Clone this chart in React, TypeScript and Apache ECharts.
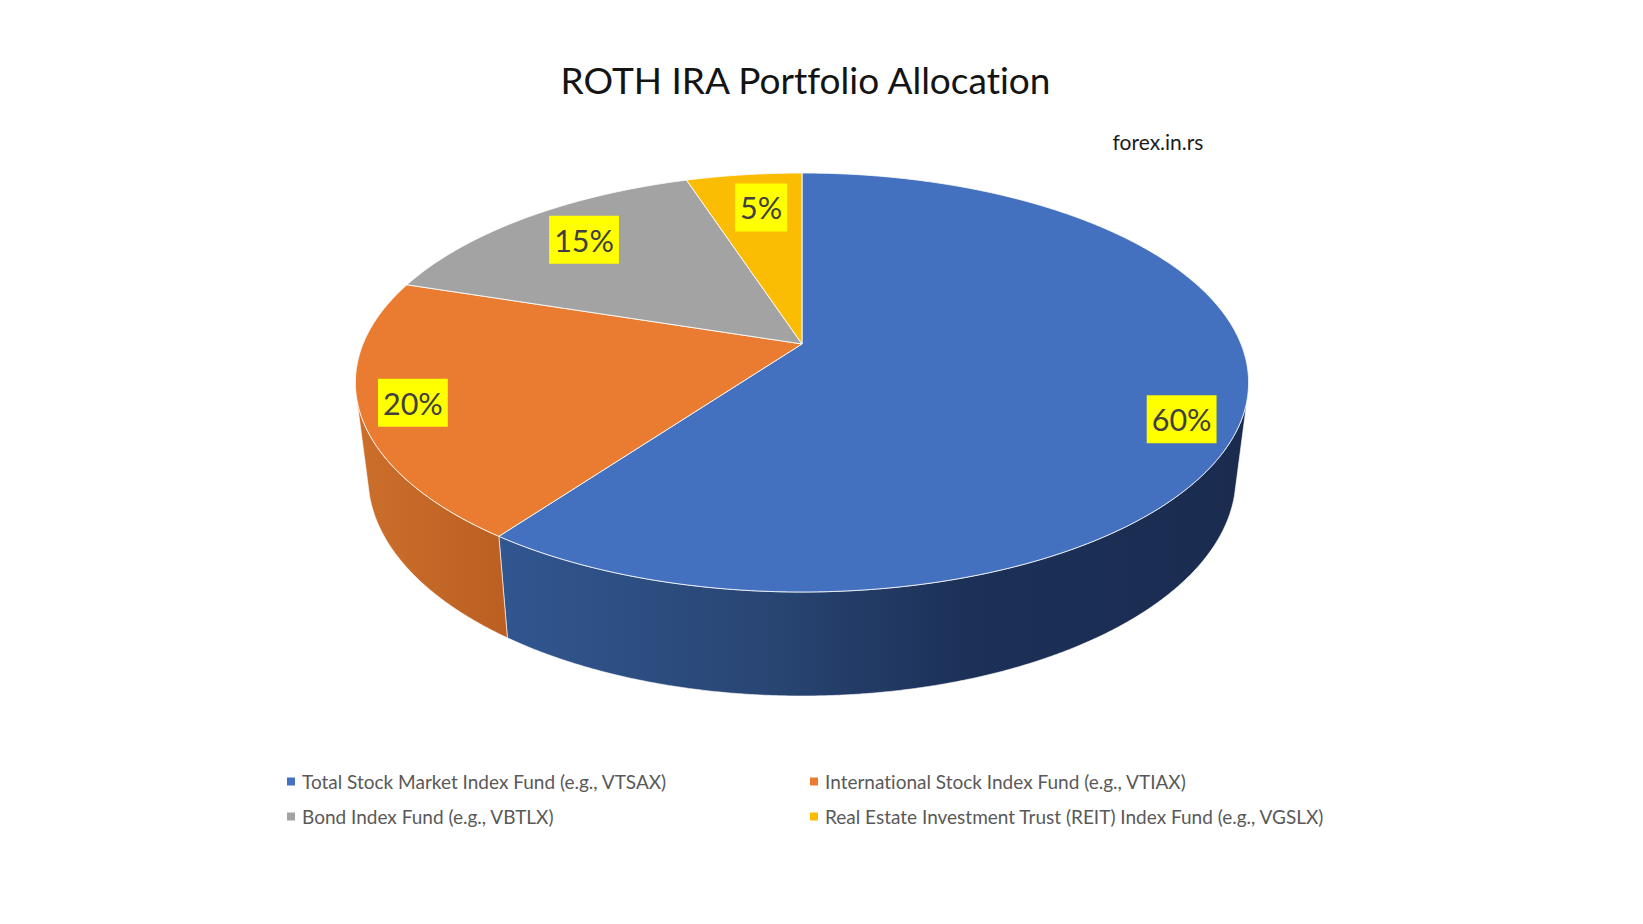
import React, { useEffect, useRef } from "react";
import * as echarts from "echarts";

const categories = [
  "Total Stock Market Index Fund (e.g., VTSAX)",
  "International Stock Index Fund (e.g., VTIAX)",
  "Bond Index Fund (e.g., VBTLX)",
  "Real Estate Investment Trust (REIT) Index Fund (e.g., VGSLX)",
];
const values = [60, 20, 15, 5];
const colors = ["#4371BF", "#E97C31", "#A3A3A3", "#FBBC04"];
const wallStops = [
  [[0, "#315690"], [0.35, "#294674"], [0.62, "#1c3158"], [1, "#1a2b4f"]],
  [[0, "#cc6f2c"], [1, "#bb5f22"]],
  [[0, "#7c7c7c"], [1, "#6c6c6c"]],
  [[0, "#bf9000"], [1, "#a87f00"]],
];
const labelRadii = [0.882, 0.886, 0.786, 0.772];
const labelShift = [5.5, -0.35, 0.8, 1.1];

const TOTAL = values.reduce((a, b) => a + b, 0);
const starts = values.map((_, i) => values.slice(0, i).reduce((a, b) => a + b, 0));

const CX = 802, TOP_CY = 382.5, TOP_RX = 446.6, TOP_RY = 209.5;
const BOT_CY = 477, BOT_RX = 434, BOT_RY = 219;
const BOOST = -0.184;
const PHI_MIN = (4.5 * Math.PI) / 180, PHI_MAX = (175.5 * Math.PI) / 180;

function project(turn: number, r: number): [number, number] {
  const t = turn * 2 * Math.PI;
  const X = r * Math.sin(t), V = -r * Math.cos(t);
  const d = 1 + BOOST * V;
  return [(X * Math.sqrt(1 - BOOST * BOOST)) / d, (V + BOOST) / d];
}
const onTop = (p: [number, number]) => [CX + TOP_RX * p[0], TOP_CY + TOP_RY * p[1]];
const onBottom = (p: [number, number]) => [CX + BOT_RX * p[0], BOT_CY + BOT_RY * p[1]];

function makeRenderItem(index: number) {
  return (_params: any, api: any) => {
    const start = api.value(0) as number;
    const value = api.value(1) as number;
    const from = start / TOTAL, to = (start + value) / TOTAL;
    const steps = Math.max(8, Math.ceil((to - from) * 1400));
    const rim: [number, number][] = [];
    for (let i = 0; i <= steps; i++) rim.push(project(from + ((to - from) * i) / steps, 1));
    const visible = rim.filter((p) => {
      const phi = Math.atan2(p[1], p[0]);
      return phi >= PHI_MIN && phi <= PHI_MAX;
    });
    const children: any[] = [];
    if (visible.length > 1) {
      children.push({
        type: "polygon",
        shape: { points: [...visible.map(onTop), ...visible.slice().reverse().map(onBottom)] },
        style: {
          fill: new echarts.graphic.LinearGradient(
            0, 0, 1, 0,
            wallStops[index].map(([offset, color]) => ({ offset: offset as number, color: color as string })),
          ),
          stroke: "rgba(255,255,255,0.75)",
          lineWidth: 0.8,
        },
      });
    }
    const apex = onTop(project(0, 0));
    children.push({
      type: "polygon",
      shape: { points: [apex, ...rim.map(onTop)] },
      style: { fill: colors[index], stroke: "rgba(255,255,255,0.85)", lineWidth: 1, lineJoin: "round" },
    });
    const mid = (from + to) / 2 + labelShift[index] / 360;
    const pos = onTop(project(mid, labelRadii[index]));
    children.push({
      type: "text",
      x: pos[0],
      y: pos[1] - 0.8,
      style: {
        text: `${Math.round((value / TOTAL) * 100)}%`,
        font: '30.5px Lato, "Open Sans", sans-serif',
        fill: "#404040",
        align: "center",
        verticalAlign: "middle",
        backgroundColor: "#FFFF00",
        padding: [8.5, 5, 8.5, 5],
      },
    });
    return { type: "group", children };
  };
}

const legendSlots = [
  { left: 287, top: 772 },
  { left: 810, top: 772 },
  { left: 287, top: 807 },
  { left: 810, top: 807 },
];

export default function App() {
  const ref = useRef<HTMLDivElement>(null);
  useEffect(() => {
    document.body.style.margin = "0";
    document.body.style.background = "#fff";
    const chart = echarts.init(ref.current!, undefined, { renderer: "svg" });
    chart.setOption({
      animation: false,
      backgroundColor: "#ffffff",
      title: {
        text: "ROTH IRA Portfolio Allocation",
        left: 800.5,
        top: 56,
        textAlign: "center",
        textStyle: { fontFamily: "Lato", fontSize: 37, fontWeight: "normal", color: "#141414" },
      },
      legend: categories.map((name, i) => ({
        data: [name],
        left: legendSlots[i].left,
        top: legendSlots[i].top,
        padding: 0,
        icon: "rect",
        itemWidth: 8,
        itemHeight: 8,
        selectedMode: false,
        textStyle: { fontFamily: "Lato", fontSize: 19, color: "#595959", padding: [0, 0, 0, 2] },
      })),
      graphic: [
        {
          type: "text",
          x: 1158,
          y: 141,
          style: {
            text: "forex.in.rs",
            font: "21px Lato",
            fill: "#1c1c1c",
            align: "center",
            verticalAlign: "middle",
          },
        },
      ],
      series: categories.map((name, i) => ({
        type: "custom",
        name,
        coordinateSystem: "none",
        silent: true,
        itemStyle: { color: colors[i] },
        renderItem: makeRenderItem(i),
        data: [[starts[i], values[i]]],
      })),
    });
    return () => chart.dispose();
  }, []);
  return (
    <>
      <style>{"text{font-variant-ligatures:none !important}"}</style>
      <div ref={ref} style={{ width: 1643, height: 924 }} />
    </>
  );
}
